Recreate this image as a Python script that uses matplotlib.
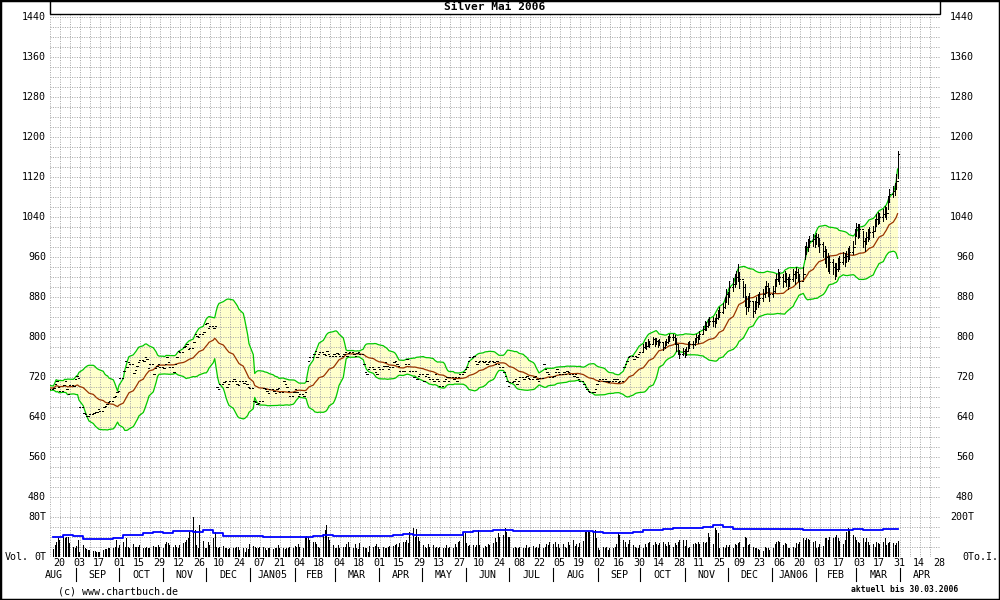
import numpy as np
import pandas as pd
import matplotlib
matplotlib.use('Agg')
import matplotlib.pyplot as plt
import matplotlib.dates as mdates
import matplotlib.transforms as mtransforms
from matplotlib.patches import Rectangle

title = 'Silver Mai 2006'
last_day = '2006-03-30'

# daily closes (cents), one line per week
close = [
    700, 695,
    697, 705, 712, 700, 692,   703, 712, 695, 685, 704,
    702, 715, 721, 718, 660,   648, 645, 642, 641, 645,
    647, 650, 649, 655, 652,   659, 662, 665, 670, 672,
    679, 682, 690, 692, 717,   732, 751, 740, 749, 745,
    727, 733, 742, 750, 754,   752, 759, 755, 737, 745,
    725, 737, 742, 745, 740,   737, 745, 759, 749, 739,
    729, 745, 760, 772, 769,   779, 782, 785, 775, 778,
    790, 805, 802, 799, 805,   810, 825, 827, 817, 821,
    817, 821, 700, 695, 705,   709, 712, 700, 705, 712,
    715, 712, 705, 704, 712,   708, 712, 705, 700, 698,
    672, 669, 665, 668, 672,   697, 695, 692, 688, 695,
    692, 688, 695, 697, 690,   712, 705, 700, 692, 682,
    690, 695, 690, 682, 685,   682, 690, 712, 752, 760,
    765, 772, 760, 765, 770,   765, 763, 772, 765, 762,
    765, 762, 768, 765, 762,   765, 769, 762, 767, 769,
    765, 762, 767, 770, 765,   745, 729, 725, 735, 739,
    735, 729, 725, 739, 735,   742, 749, 742, 735, 739,
    749, 752, 745, 742, 732,   732, 745, 755, 745, 732,
    719, 732, 715, 722, 725,   712, 722, 725, 719, 715,
    712, 725, 715, 712, 702,   712, 715, 719, 712, 719,
    715, 719, 712, 719, 725,   729, 735, 739, 752, 760,
    762, 752, 745, 749, 752,   749, 752, 745, 749, 752,
    749, 745, 752, 745, 740,   729, 722, 712, 702, 710,
    712, 715, 705, 712, 719,   715, 719, 722, 717, 715,
    719, 722, 715, 712, 717,   745, 735, 729, 725, 719,
    722, 729, 735, 729, 725,   729, 725, 732, 729, 725,
    722, 725, 719, 715, 712,   705, 700, 695, 692, 689,
    689, 695, 705, 712, 715,   712, 715, 712, 709, 712,
    715, 712, 715, 709, 712,   740, 745, 752, 759, 762,
    755, 762, 759, 765, 770,   779, 785, 782, 790, 785,
    795, 789, 792, 785, 790,   779, 785, 790, 795, 799,
    799, 795, 785, 772, 765,   772, 765, 772, 782, 785,
    785, 792, 799, 795, 805,   815, 825, 822, 829, 832,
    832, 829, 838, 845, 850,   859, 872, 885, 879, 899,
    905, 912, 920, 929, 915,   899, 879, 859, 869, 872,
    852, 860, 869, 872, 878,   885, 892, 902, 895, 885,
    892, 905, 915, 925, 919,   912, 922, 915, 909, 915,
    925, 919, 930, 925, 912,   925, 972, 979, 985, 992,
    995, 992, 999, 995, 985,   972, 965, 959, 952, 949,
    939, 929, 935, 945, 949,   959, 955, 962, 965, 969,
    979, 1005, 1019, 1012, 1015,   992, 985, 999, 1005, 1009,
    1012, 1025, 1035, 1039, 1039,   1045, 1052, 1048, 1072, 1085,
    1092, 1095, 1112, 1165,
]

# daily highs / lows for the last part (Oct 2005 on), earlier bars are flat
high_late = [
    785, 790, 789, 795, 792,   800, 797, 798, 793, 796,
    788, 791, 796, 801, 805,   806, 803, 797, 786, 774,
    778, 775, 779, 789, 792,   792, 798, 806, 803, 812,
    822, 832, 830, 836, 839,   840, 838, 846, 854, 859,
    868, 880, 895, 890, 912,   918, 925, 932, 945, 928,
    912, 905, 882, 882, 888,   872, 872, 880, 885, 890,
    895, 902, 912, 908, 898,   902, 915, 925, 935, 930,
    925, 932, 928, 920, 926,   935, 932, 940, 936, 925,
    940, 982, 990, 995, 1002,   1005, 1004, 1008, 1006, 998,
    990, 982, 975, 968, 962,   955, 948, 948, 958, 962,
    970, 968, 972, 978, 982,   992, 1015, 1028, 1025, 1026,
    1012, 998, 1010, 1016, 1020,   1022, 1036, 1045, 1050, 1048,
    1055, 1062, 1060, 1082, 1096,   1102, 1108, 1125, 1172,
]
low_late = [
    772, 778, 776, 782, 779,   787, 782, 785, 779, 783,
    774, 778, 783, 787, 792,   793, 786, 772, 765, 758,
    763, 759, 764, 772, 778,   778, 784, 790, 788, 796,
    805, 814, 813, 819, 823,   822, 820, 828, 835, 840,
    848, 858, 870, 865, 882,   892, 900, 905, 912, 898,
    880, 862, 845, 852, 860,   840, 848, 855, 860, 865,
    872, 880, 888, 882, 872,   880, 890, 902, 912, 905,
    900, 910, 902, 895, 902,   912, 905, 918, 912, 898,
    915, 955, 965, 972, 980,   982, 980, 986, 982, 970,
    960, 948, 940, 932, 928,   925, 915, 922, 932, 935,
    945, 942, 950, 952, 956,   965, 985, 1002, 998, 1000,
    980, 972, 985, 992, 995,   1000, 1012, 1022, 1026, 1028,
    1032, 1040, 1035, 1055, 1070,   1080, 1084, 1095, 1118,
]

# daily volume (thousand contracts)
volume = [
    17, 18, 15, 23, 30, 37, 33, 43, 37, 40,
    40, 27, 20, 17, 22, 33, 10, 23, 17, 15,
    14, 13, 12, 11, 10, 9, 10, 13, 15, 15,
    18, 17, 18, 20, 33, 18, 23, 29, 20, 37,
    20, 17, 25, 20, 19, 20, 23, 17, 18, 20,
    17, 18, 21, 20, 19, 23, 20, 18, 25, 30,
    27, 23, 20, 23, 20, 17, 23, 27, 30, 33,
    37, 50, 80, 53, 23, 17, 63, 31, 17, 18,
    30, 23, 37, 50, 20, 17, 20, 22, 18, 17,
    15, 18, 17, 18, 20, 20, 13, 17, 10, 18,
    15, 25, 22, 20, 18, 17, 20,
    20, 17, 13, 17, 18, 15, 17, 18, 23, 17,
    18, 15, 17, 18, 20, 17, 22, 20, 25, 20,
    17, 40, 42, 40, 33, 30, 29, 25, 20, 17,
    45, 53, 63, 40, 33, 23, 18, 17, 23, 17,
    20, 20, 25, 29, 20, 18, 25, 18, 15, 27,
    20, 17, 18, 10, 22, 20, 22, 25, 20, 15,
    20, 18, 17, 20, 22, 22, 23, 25, 20, 27,
    29, 30, 33, 27, 50, 57, 40, 55, 40, 31,
    23, 20, 17, 25, 20, 23, 18, 20, 17, 20,
    18, 17, 23, 18, 20, 17, 25, 20, 30, 31,
    50, 47, 27, 22, 23,
    23, 20, 23, 53, 23, 18, 22, 20, 25, 23,
    27, 37, 30, 47, 40, 43, 57, 50, 40, 40,
    17, 20, 18, 17, 20, 17, 18, 23, 18, 20,
    22, 18, 20, 17, 25, 18, 20, 25, 23, 29,
    25, 30, 20, 25, 18, 25, 20, 17, 30, 23,
    33, 22, 25, 20, 27, 31, 50, 50, 51, 50,
    50, 53, 37, 18, 13, 20, 17, 20, 13, 18,
    17, 20, 25, 47, 43, 33, 30, 20, 25, 33,
    23, 20, 17, 18, 23, 18, 25, 20, 27, 30,
    23, 29, 25, 23, 27, 30, 25, 22, 29, 23,
    20, 27, 23, 30, 33, 33, 22,
    33, 17, 20, 25, 27, 25, 29, 25, 30, 27,
    30, 47, 40, 25, 57, 53, 47, 17, 20, 18,
    23, 20, 23, 18, 25, 23, 27, 29, 20, 40,
    37, 23, 25, 20, 17, 18, 15, 13, 11, 20,
    17, 18, 13, 17, 25, 30, 31, 29, 23, 27,
    25, 18, 17, 20, 17, 27, 25, 30, 37, 33,
    37, 35, 33, 30, 31, 18, 20, 25, 22, 38,
    37, 33, 40, 38, 40, 43, 37, 31, 25, 33,
    50, 58, 53, 43, 40, 33, 30, 27, 37, 30,
    37, 29, 23, 25, 20, 30, 27, 25, 29, 37,
    23, 27, 29, 27, 23, 27, 31,
]

# weekly open interest (thousand contracts), weeks starting 16.08.2004
open_int = [
    100, 108, 103, 87, 87, 87, 95, 108, 110, 118, 122, 120, 130, 130, 125, 133, 120, 103, 103, 103, 103,
    100, 100, 100, 100, 98, 102, 110, 102, 104, 104, 104, 104, 105, 107, 112, 110, 107, 107, 107, 110, 122,
    130, 130, 134, 132, 130, 130, 130, 130, 130, 130, 130, 128, 122, 120, 120, 120, 125, 132, 134, 138, 142, 143,
    142, 150, 160, 147, 140, 140, 137, 137, 137, 137, 137, 135, 135, 135, 135, 136, 138, 134, 135, 138, 140,
]

price_ticks = [480, 560, 640, 720, 800, 880, 960, 1040, 1120, 1200, 1280, 1360, 1440]
month_names = ['AUG', 'SEP', 'OCT', 'NOV', 'DEC', 'JAN05', 'FEB', 'MAR', 'APR', 'MAY', 'JUN',
               'JUL', 'AUG', 'SEP', 'OCT', 'NOV', 'DEC', 'JAN06', 'FEB', 'MAR', 'APR']

plt.rcParams['font.family'] = 'DejaVu Sans Mono'
plt.rcParams['font.size'] = 7.2

days = pd.bdate_range(end=last_day, periods=len(close))
vdays = pd.bdate_range(end=last_day, periods=len(volume))
weeks = pd.date_range('2004-08-16', periods=len(open_int), freq='W-MON')

c = pd.Series(close, index=days, dtype=float)
ma = c.rolling(20, min_periods=1).mean()
sd = c.rolling(20, min_periods=2).std(ddof=0).bfill()
upper = ma + 2 * sd
lower = ma - 2 * sd

high = np.array(close, dtype=float)
low = np.array(close, dtype=float)
high[-len(high_late):] = high_late
low[-len(low_late):] = low_late
prev = np.r_[close[0], close[:-1]]

x = mdates.date2num(days)
vx = mdates.date2num(vdays)
x0 = mdates.date2num(pd.Timestamp('2004-08-20'))   # sits at pixel 59, 10 px per week

PX = 0.72  # one pixel in points


def fy(ypx):
    return 1 - ypx / 600


fig = plt.figure(figsize=(10, 6), dpi=100, facecolor='white')
ax = fig.add_axes([0.05, fy(506.7), 0.89, (506.7 - 14) / 600])
axv = fig.add_axes([0.05, fy(556.7), 0.89, 50 / 600], sharex=ax)
axo = axv.twinx()

ax.set_ylim(1440 - 2 * (506.7 - 16.7), 1440 + 2 * 2.7)
axv.set_ylim(0, 100)
axo.set_ylim(0, 250)
ax.set_xlim(x0 - 9 * 0.7, x0 + 881 * 0.7)

grid_kw = dict(color='#a8a8a8', lw=PX, ls=(0, (1, 1.4)), zorder=1.5)
saturdays = pd.date_range('2004-08-14', '2006-04-29', freq='W-SAT')
for a, levels in ((ax, np.arange(480, 1441, 20)), (axv, np.arange(0, 81, 20))):
    for lv in levels:
        a.axhline(lv, **grid_kw)
    for s in mdates.date2num(saturdays):
        a.axvline(s, **grid_kw)

for a in (ax, axv, axo):
    for sp in a.spines.values():
        sp.set_visible(False)
    a.set_xticks([])
    a.set_yticks([])
    a.patch.set_alpha(0)

# bollinger band and moving average
ax.fill_between(x, lower, upper, color='#ffffcc', lw=0, zorder=1)
ax.plot(x, upper, color='#00c800', lw=0.9, zorder=2)
ax.plot(x, lower, color='#00c800', lw=0.9, zorder=2)
ax.plot(x, ma, color='#993300', lw=0.9, zorder=2)

# OHLC bars
bar_kw = dict(color='black', lw=PX, zorder=3, antialiased=False)
ax.vlines(x, low, high, **bar_kw)
ax.hlines(prev, x - 1.0, x, **bar_kw)
ax.hlines(close, x, x + 1.0, **bar_kw)

# volume and open interest
axv.vlines(vx, 0, volume, **bar_kw)
oi_x = np.r_[mdates.date2num(weeks), x[-1]]
oi_y = np.r_[open_int, open_int[-1]]
axo.step(oi_x, oi_y, where='post', color='#0000ff', lw=1.3, zorder=4)

# axis texts
left_t = mtransforms.blended_transform_factory(ax.transAxes, ax.transData)
for v in price_ticks:
    ax.text(-4 / 890, v, str(v), ha='right', va='center', transform=left_t)
    ax.text(1 + 34 / 890, v, str(v), ha='right', va='center', transform=left_t)
vt = mtransforms.blended_transform_factory(axv.transAxes, axv.transData)
axv.text(-4 / 890, 80, '80T', ha='right', va='center', transform=vt)
axv.text(-4 / 890, 0, '0T', ha='right', va='center', transform=vt)
ot = mtransforms.blended_transform_factory(axo.transAxes, axo.transData)
axo.text(1 + 34 / 890, 200, '200T', ha='right', va='center', transform=ot)
axo.text(1 + 22 / 890, 0, '0To.I.', ha='left', va='center', transform=ot)
fig.text(5 / 1000, fy(556.7), 'Vol.', ha='left', va='center')

bt = mtransforms.blended_transform_factory(axv.transData, fig.transFigure)
for d in pd.date_range('2004-08-20', '2006-04-28', freq='14D'):
    axv.text(mdates.date2num(d), fy(563), d.strftime('%d'), ha='center', va='center',
             transform=bt, clip_on=False)
month_starts = pd.date_range('2004-08-01', periods=len(month_names), freq='MS')
for name, m in zip(month_names, month_starts):
    mid = mdates.date2num(m) + m.days_in_month / 2
    axv.text(mid, fy(575), name, ha='center', va='center', transform=bt, clip_on=False)
    if m > month_starts[0]:
        mx = mdates.date2num(m)
        axv.plot([mx, mx], [fy(567.5), fy(581)], color='black', lw=0.8,
                 transform=bt, clip_on=False)

fig.text(58 / 1000, fy(591), '(c) www.chartbuch.de', ha='left', va='center')
fig.text(958 / 1000, fy(589.5), 'aktuell bis 30.03.2006', ha='right', va='center',
         fontsize=5.8, fontweight='bold')

# title box and frame
fig.patches.append(Rectangle((0.05, fy(14)), 0.89, 14 / 600, transform=fig.transFigure,
                             fill=False, ec='black', lw=1.0))
fig.text(0.495, fy(7), title, ha='center', va='center', fontsize=8, fontweight='bold')
fig.patches.append(Rectangle((0, 0), 1, 1, transform=fig.transFigure,
                             fill=False, ec='black', lw=2.5))

fig.savefig('out.png', dpi=100)
